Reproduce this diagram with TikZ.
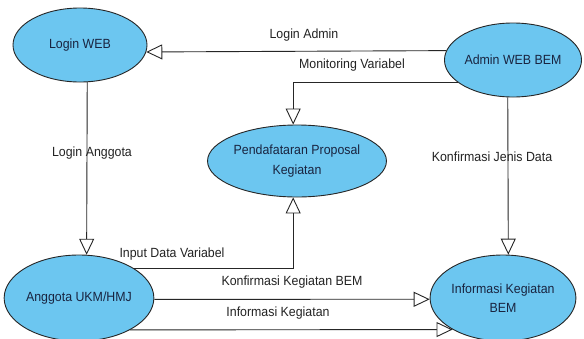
\documentclass[tikz,border=0pt]{standalone}
\usepackage{fontspec}
\setmainfont[FakeStretch=0.93]{Liberation Sans}
\usetikzlibrary{shapes.geometric,arrows.meta}
\definecolor{ufill}{RGB}{108,198,240}
\definecolor{utext}{RGB}{25,36,64}
\definecolor{ltext}{RGB}{35,35,35}
\tikzset{
  uc/.style={ellipse, draw=black!85, line width=0.9pt, fill=ufill, inner sep=0pt,
    text=utext, align=center, font=\fontsize{13.3}{19.5}\selectfont},
  flow/.style={draw=black!85, line width=0.9pt,
    -{Triangle[open, length=16pt, width=15pt, fill=white]}},
  lbl/.style={text=ltext, font=\fontsize{13.3}{15}\selectfont, inner sep=0pt}
}
\begin{document}
\begin{tikzpicture}[x=1pt,y=-1pt]
\clip (0,0) rectangle (584,338);
\fill[white] (0,0) rectangle (584,338);
\node[uc, minimum width=134pt, minimum height=74pt] (login) at (80,45) {Login WEB};
\node[uc, minimum width=130pt, minimum height=74pt] (admin) at (513,60) {Admin WEB BEM};
\node[uc, minimum width=154pt, minimum height=72pt] (pend) at (297,161) {Pendafataran Proposal\\Kegiatan};
\node[uc, minimum width=134pt, minimum height=86pt] (angg) at (79,298) {Anggota UKM/HMJ};
\node[uc, minimum width=134pt, minimum height=86pt] (info) at (503,298) {Informasi Kegiatan\\BEM};

\draw[flow] (admin.172.8) -- (login.-6.07);
\draw[flow] (admin.202.8) -| (pend.96.35);
\draw[flow] (login.-79.2) -- (angg.80.7);
\draw[flow] (admin.262.3) -- (info.83.3);
\draw[flow] (angg.28.8) -| (pend.-96.35);
\draw[flow] (angg.-1.7) -- (info.181.7);
\draw[flow] (angg.-32) -- (info.212);

\node[lbl] (l1) at (304,35) {Login Admin};
\node[lbl] (l2) at (352,65) {Monitoring Variabel};
\node[lbl] (l3) at (92,153) {Login Anggota};
\node[lbl] (l4) at (492,157) {Konfirmasi Jenis Data};
\node[lbl] (l5) at (172,254) {Input Data Variabel};
\node[lbl] (l6) at (292,282) {Konfirmasi Kegiatan BEM};
\node[lbl] (l7) at (278,313) {Informasi Kegiatan};
\end{tikzpicture}
\end{document}
